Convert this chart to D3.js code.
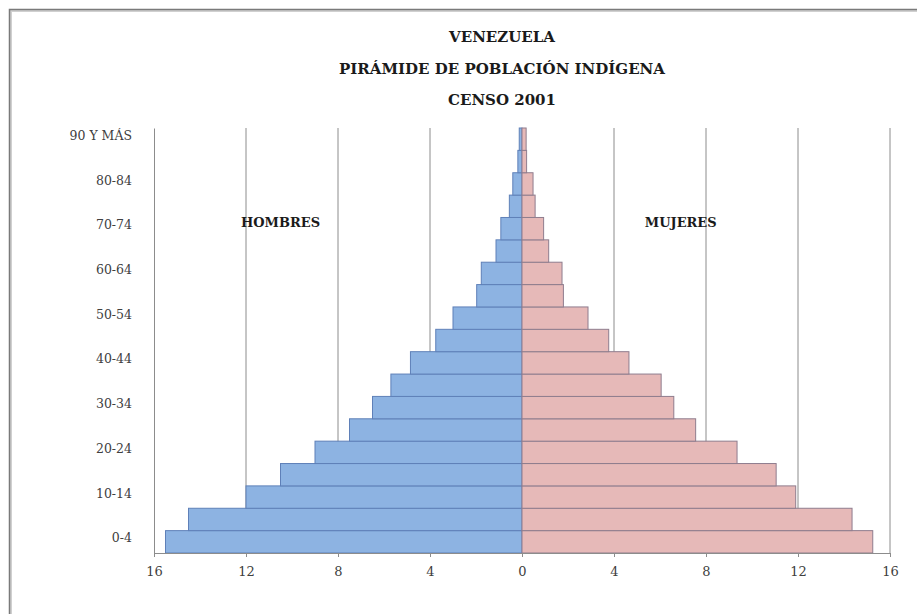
<!DOCTYPE html>
<html>
<head>
<meta charset="utf-8">
<script src="https://cdn.jsdelivr.net/npm/d3@7/dist/d3.min.js"></script>
<style>
  html, body { margin: 0; padding: 0; background: #fff; }
  svg { display: block; }
</style>
</head>
<body>
<svg id="chart" width="917" height="614"></svg>
<script>
// ---- Data (percent of indigenous population, Censo 2001) ----
const ages = ["0-4","5-9","10-14","15-19","20-24","25-29","30-34","35-39","40-44","45-49",
              "50-54","55-59","60-64","65-69","70-74","75-79","80-84","85-89","90 Y MÁS"];
const hombres = [15.5, 14.5, 12.0, 10.5, 9.0, 7.5, 6.5, 5.7, 4.85, 3.75,
                 3.0, 1.97, 1.77, 1.13, 0.92, 0.55, 0.4, 0.18, 0.12];
const mujeres = [15.25, 14.35, 11.9, 11.05, 9.35, 7.55, 6.6, 6.05, 4.65, 3.77,
                 2.87, 1.8, 1.74, 1.16, 0.94, 0.57, 0.48, 0.2, 0.18];
const xTickValues = [-16, -12, -8, -4, 0, 4, 8, 12, 16];
const gridValues = [-12, -8, -4, 4, 8, 12, 16];
const yTickLabels = ["0-4","10-14","20-24","30-34","40-44","50-54","60-64","70-74","80-84","90 Y MÁS"];
const titleLines = ["VENEZUELA", "PIRÁMIDE DE POBLACIÓN INDÍGENA", "CENSO 2001"];
const sexLabels = [{text: "HOMBRES", value: -10.5}, {text: "MUJERES", value: 6.9}];

const svg = d3.select("#chart");
const serif = "'DejaVu Serif', 'Liberation Serif', serif";

// frame
svg.append("rect").attr("x", 10.5).attr("y", 10.5).attr("width", 930).attr("height", 630)
  .attr("fill", "#fff").attr("stroke", "#d0d0d0").attr("stroke-width", 3);
svg.append("rect").attr("x", 9.5).attr("y", 9.5).attr("width", 930).attr("height", 630)
  .attr("fill", "none").attr("stroke", "#7a7a7a").attr("stroke-width", 1.5);

const x = d3.scaleLinear().domain([-16, 16]).range([154, 890]);
const y = d3.scaleBand().domain(ages).range([553, 128]).paddingInner(0).paddingOuter(0);

// title
svg.append("g").selectAll("text").data(titleLines).join("text")
  .attr("x", 502).attr("y", (d, i) => 42 + i * 31.5)
  .attr("text-anchor", "middle")
  .attr("font-family", serif).attr("font-weight", "bold").attr("font-size", 15)
  .attr("fill", "#1a1a1a")
  .text(d => d);

// gridlines
svg.append("g").selectAll("line").data(gridValues).join("line")
  .attr("x1", d => x(d)).attr("x2", d => x(d))
  .attr("y1", 128).attr("y2", 553)
  .attr("stroke", "#8c8c8c").attr("stroke-width", 1);

// bars: hombres
svg.append("g").selectAll("rect").data(ages).join("rect")
  .attr("x", (d, i) => x(-hombres[i]))
  .attr("y", d => y(d))
  .attr("width", (d, i) => x(0) - x(-hombres[i]))
  .attr("height", y.bandwidth())
  .attr("fill", "#8db3e2").attr("stroke", "#5f80b8").attr("stroke-width", 1);

// bars: mujeres
svg.append("g").selectAll("rect").data(ages).join("rect")
  .attr("x", x(0))
  .attr("y", d => y(d))
  .attr("width", (d, i) => x(mujeres[i]) - x(0))
  .attr("height", y.bandwidth())
  .attr("fill", "#e6b9b8").attr("stroke", "#8f7d8e").attr("stroke-width", 1);

// x axis
const xAxis = svg.append("g").attr("transform", "translate(0,553)")
  .call(d3.axisBottom(x).tickValues(xTickValues).tickFormat(d => Math.abs(d)).tickSize(4).tickSizeOuter(0).tickPadding(10));
xAxis.select(".domain").attr("stroke", "#8c8c8c");
xAxis.selectAll(".tick line").attr("stroke", "#8c8c8c");
xAxis.selectAll(".tick text").attr("font-family", serif).attr("font-size", 13).attr("fill", "#404040");

// y axis
const yAxis = svg.append("g").attr("transform", "translate(154,0)")
  .call(d3.axisLeft(y).tickValues(yTickLabels).tickSize(0).tickPadding(22));
yAxis.select(".domain").attr("stroke", "#8c8c8c");
yAxis.selectAll(".tick text").attr("font-family", serif).attr("font-size", 12.5)
  .attr("fill", "#404040").attr("dy", "0.05em");

// sex labels
svg.append("g").selectAll("text").data(sexLabels).join("text")
  .attr("x", d => x(d.value)).attr("y", 227)
  .attr("text-anchor", "middle")
  .attr("font-family", serif).attr("font-weight", "bold").attr("font-size", 13)
  .attr("fill", "#1a1a1a")
  .text(d => d.text);
</script>
</body>
</html>
